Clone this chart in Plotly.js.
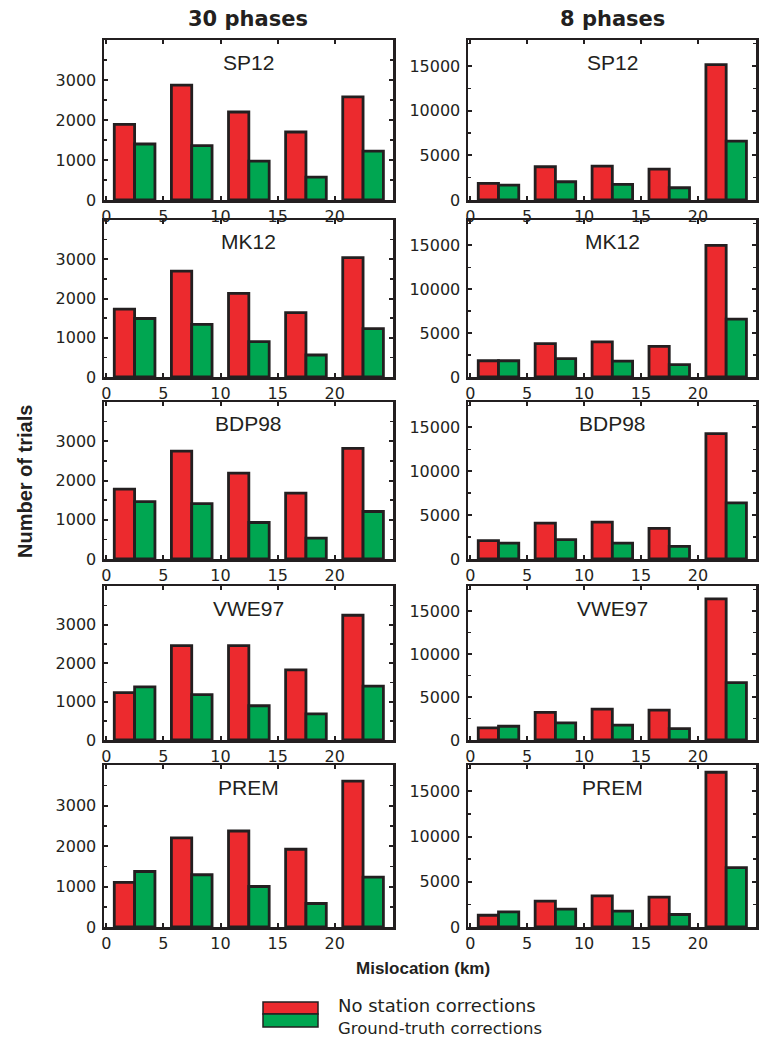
<!DOCTYPE html>
<html>
<head>
<meta charset="utf-8">
<script src="https://cdn.plot.ly/plotly-3.0.1.min.js"></script>
<style>html,body{margin:0;padding:0;background:#fff;}#chart{width:764px;height:1043px;}</style>
</head>
<body>
<div id="chart"></div>
<script>
// ---- data ----
const models = ['SP12', 'MK12', 'BDP98', 'VWE97', 'PREM'];
const columnTitles = ['30 phases', '8 phases'];
const seriesNames = ['No station corrections', 'Ground-truth corrections'];
const bins = [0, 5, 10, 15, 20];
const xTickVals = [0, 5, 10, 15, 20];
const xTickText = ['0', '5', '10', '15', '20'];
const yTicks30 = [0, 1000, 2000, 3000];
const yTickText30 = ['0', '1000', '2000', '3000'];
const yTicks8 = [0, 5000, 10000, 15000];
const yTickText8 = ['0', '5000', '10000', '15000'];

const sp12_30_none = [1890, 2870, 2200, 1700, 2580];
const sp12_30_gt   = [1400, 1360, 970, 570, 1220];
const sp12_8_none  = [1860, 3720, 3800, 3460, 15140];
const sp12_8_gt    = [1670, 2040, 1750, 1370, 6580];

const mk12_30_none = [1730, 2700, 2130, 1640, 3040];
const mk12_30_gt   = [1490, 1340, 900, 560, 1230];
const mk12_8_none  = [1850, 3800, 4000, 3500, 15000];
const mk12_8_gt    = [1850, 2100, 1800, 1400, 6600];

const bdp98_30_none = [1780, 2750, 2190, 1680, 2820];
const bdp98_30_gt   = [1460, 1410, 930, 530, 1210];
const bdp98_8_none  = [2100, 4100, 4200, 3500, 14300];
const bdp98_8_gt    = [1800, 2200, 1800, 1450, 6400];

const vwe97_30_none = [1230, 2450, 2450, 1820, 3240];
const vwe97_30_gt   = [1380, 1180, 890, 680, 1400];
const vwe97_8_none  = [1400, 3200, 3600, 3480, 16400];
const vwe97_8_gt    = [1600, 2000, 1720, 1320, 6680];

const prem_30_none = [1100, 2200, 2370, 1920, 3600];
const prem_30_gt   = [1370, 1290, 1000, 580, 1230];
const prem_8_none  = [1300, 2870, 3430, 3310, 17100];
const prem_8_gt    = [1670, 1980, 1750, 1380, 6550];

const panelData = [
  [[sp12_30_none, sp12_30_gt], [sp12_8_none, sp12_8_gt]],
  [[mk12_30_none, mk12_30_gt], [mk12_8_none, mk12_8_gt]],
  [[bdp98_30_none, bdp98_30_gt], [bdp98_8_none, bdp98_8_gt]],
  [[vwe97_30_none, vwe97_30_gt], [vwe97_8_none, vwe97_8_gt]],
  [[prem_30_none, prem_30_gt], [prem_8_none, prem_8_gt]]
];

// ---- styling / layout ----
const W = 764, H = 1043;
const RED = '#EC2A2E', GREEN = '#00A651', INK = '#231F20';
const colPx = [[104, 393], [468, 756]];
const rowPx = [[40, 200], [220, 377], [402, 559], [586, 740], [765, 927]];
const tickFont = {family: 'DejaVu Sans, sans-serif', size: 16, color: INK};

const traces = [];
const layout = {
  width: W, height: H,
  margin: {l: 0, r: 0, t: 0, b: 0},
  paper_bgcolor: '#fff', plot_bgcolor: '#fff',
  showlegend: false,
  barmode: 'overlay',
  annotations: [], shapes: []
};

for (let r = 0; r < 5; r++) {
  for (let c = 0; c < 2; c++) {
    const idx = r * 2 + c + 1;
    const xa = 'xaxis' + (idx === 1 ? '' : idx);
    const ya = 'yaxis' + (idx === 1 ? '' : idx);
    const xr = 'x' + (idx === 1 ? '' : idx);
    const yr = 'y' + (idx === 1 ? '' : idx);
    const xd = [colPx[c][0] / W, colPx[c][1] / W];
    const yd = [1 - rowPx[r][1] / H, 1 - rowPx[r][0] / H];
    const vals = panelData[r][c];
    [0, 1].forEach(s => {
      traces.push({
        type: 'bar', x: bins, y: vals[s], name: seriesNames[s],
        xaxis: xr, yaxis: yr,
        offset: s === 0 ? 0.7 : 2.48, width: 1.78,
        marker: {color: s === 0 ? RED : GREEN, line: {color: INK, width: 2.8}},
        hoverinfo: 'skip'
      });
    });
    layout[xa] = {
      domain: xd, anchor: yr, range: [-0.2, 25.1],
      tickmode: 'array', tickvals: xTickVals, ticktext: xTickText,
      ticks: 'inside', ticklen: 4, tickwidth: 2, tickcolor: INK,
      showline: true, linewidth: 2.5, linecolor: INK, mirror: 'ticks',
      showgrid: false, zeroline: false, tickfont: tickFont, fixedrange: true
    };
    layout[ya] = {
      domain: yd, anchor: xr, range: c === 0 ? [0, 4000] : [0, 17900],
      tickmode: 'array',
      tickvals: c === 0 ? yTicks30 : yTicks8,
      ticktext: c === 0 ? yTickText30 : yTickText8,
      ticks: 'inside', ticklen: 4, tickwidth: 2, tickcolor: INK,
      minor: {dtick: c === 0 ? 500 : 2500, tick0: 0, ticks: 'inside', ticklen: 3, tickwidth: 1.5, tickcolor: INK},
      showline: true, linewidth: 2.5, linecolor: INK, mirror: 'ticks',
      showgrid: false, zeroline: false, tickfont: tickFont, fixedrange: true,
      ticklabelstandoff: 2
    };
    layout.annotations.push({
      text: models[r], xref: 'paper', yref: 'paper',
      x: (xd[0] + xd[1]) / 2, y: 1 - (rowPx[r][0] + 22) / H,
      xanchor: 'center', yanchor: 'middle', showarrow: false,
      font: {family: 'Liberation Sans, Arial, sans-serif', size: 21, color: INK}
    });
  }
}

// column titles
[248.5, 612].forEach((px, i) => {
  layout.annotations.push({
    text: '<b>' + columnTitles[i] + '</b>', xref: 'paper', yref: 'paper',
    x: px / W, y: 1 - 19 / H, xanchor: 'center', yanchor: 'middle', showarrow: false,
    font: {family: 'DejaVu Sans, sans-serif', size: 21, color: INK}
  });
});
// axis titles
layout.annotations.push({
  text: '<b>Number of trials</b>', xref: 'paper', yref: 'paper',
  x: 25 / W, y: 1 - 482 / H, xanchor: 'center', yanchor: 'middle', showarrow: false,
  textangle: -90,
  font: {family: 'Liberation Sans, Arial, sans-serif', size: 20, color: INK}
});
layout.annotations.push({
  text: '<b>Mislocation (km)</b>', xref: 'paper', yref: 'paper',
  x: 423 / W, y: 1 - 968 / H, xanchor: 'center', yanchor: 'middle', showarrow: false,
  font: {family: 'Liberation Sans, Arial, sans-serif', size: 17, color: INK}
});
// legend
const legColors = [RED, GREEN];
const legBox = [[1002, 1014], [1014, 1027]];
const legTextY = [1005, 1028];
[0, 1].forEach(s => {
  layout.shapes.push({
    type: 'rect', xref: 'paper', yref: 'paper',
    x0: 263 / W, x1: 318 / W, y0: 1 - legBox[s][1] / H, y1: 1 - legBox[s][0] / H,
    fillcolor: legColors[s], line: {color: INK, width: 1.5}
  });
  layout.annotations.push({
    text: seriesNames[s], xref: 'paper', yref: 'paper',
    x: 336 / W, y: 1 - legTextY[s] / H, xanchor: 'left', yanchor: 'middle', showarrow: false,
    font: {family: 'DejaVu Sans, sans-serif', size: s === 0 ? 18 : 16.5, color: INK}
  });
});

Plotly.newPlot('chart', traces, layout, {staticPlot: true, displayModeBar: false});
</script>
</body>
</html>
